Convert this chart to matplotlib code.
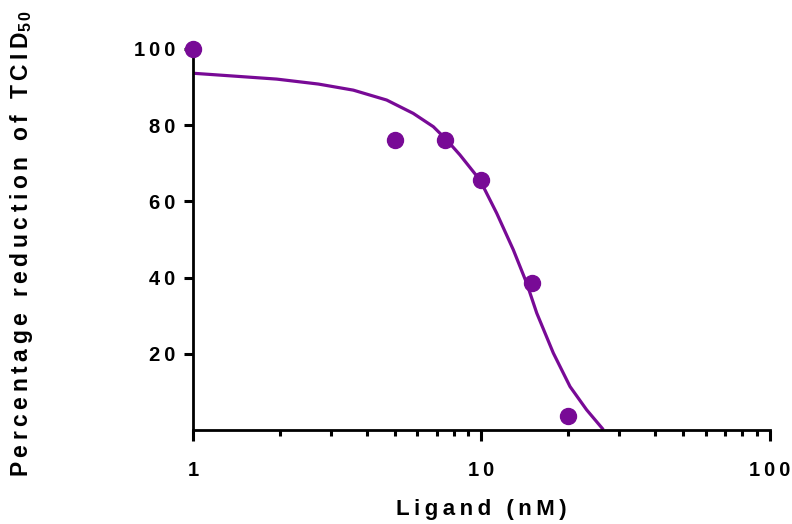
import numpy as np
import matplotlib.pyplot as plt
from matplotlib.ticker import FixedLocator, NullFormatter

plt.rcParams['font.family'] = ['Liberation Sans', 'DejaVu Sans']
plt.rcParams['font.weight'] = 'bold'
plt.rcParams['axes.labelweight'] = 'bold'
plt.rcParams['mathtext.fontset'] = 'custom'
plt.rcParams['mathtext.rm'] = 'Liberation Sans:bold'
plt.rcParams['mathtext.it'] = 'Liberation Sans:bold'
plt.rcParams['mathtext.bf'] = 'Liberation Sans:bold'

# measured points
ligand = [1, 5, 7.5, 10, 15, 20]
reduction = [100, 76.2, 76.2, 65.6, 38.5, 3.8]

# dose-response fit curve
fit_x = [1.0, 1.016, 1.379, 1.95, 2.719, 3.595, 4.692, 5.80, 6.81, 7.58,
         8.42, 9.88, 11.29, 12.89, 14.35, 15.54, 17.74, 20.27, 23.14, 26.44]
fit_y = [93.7, 93.6, 92.9, 92.1, 90.8, 89.2, 86.6, 83.1, 79.6, 76.1,
         72.2, 65.6, 56.9, 47.3, 38.5, 30.7, 20.2, 11.4, 5.3, 0.1]

yticks = [20, 40, 60, 80, 100]
xticks = [1, 10, 100]

purple = '#780A96'


def spaced(s):
    return '\u2009'.join(s)


fig = plt.figure(figsize=(7.92, 5.24), dpi=100)
ax = fig.add_axes([0.2437, 0.1794, 0.7285, 0.7271])

ax.plot(fit_x, fit_y, color=purple, lw=2.3, solid_capstyle='butt',
        solid_joinstyle='round')
ax.plot(ligand, reduction, 'o', color=purple, ms=11.5, clip_on=False, zorder=5)

ax.set_xscale('log')
ax.set_xlim(1, 100)
ax.set_ylim(0, 100)

for side in ['top', 'right']:
    ax.spines[side].set_visible(False)
for side in ['left', 'bottom']:
    ax.spines[side].set_linewidth(2.0)

ax.xaxis.set_major_locator(FixedLocator(xticks))
ax.xaxis.set_minor_locator(FixedLocator([m * d for d in (1, 10) for m in range(2, 10)]))
ax.xaxis.set_minor_formatter(NullFormatter())
ax.set_xticklabels([spaced(str(t)) for t in xticks])
ax.set_yticks(yticks)
ax.set_yticklabels([spaced(str(t)) for t in yticks])

ax.tick_params(axis='x', which='major', length=8, width=2.2, pad=14, labelsize=14.5)
ax.tick_params(axis='x', which='minor', length=4.5, width=2.2)
ax.tick_params(axis='y', which='major', length=6.5, width=2.2, pad=6, labelsize=14.5)

ax.set_xlabel(spaced('Ligand (nM)'), fontsize=16, labelpad=14)
ax.set_ylabel(spaced('Percentage reduction of TCID') + r'$_{\mathrm{5\,0}}$',
              fontsize=16.5)
ax.yaxis.set_label_coords(-0.274, 0.49)

fig.savefig('out.png', dpi=100)
